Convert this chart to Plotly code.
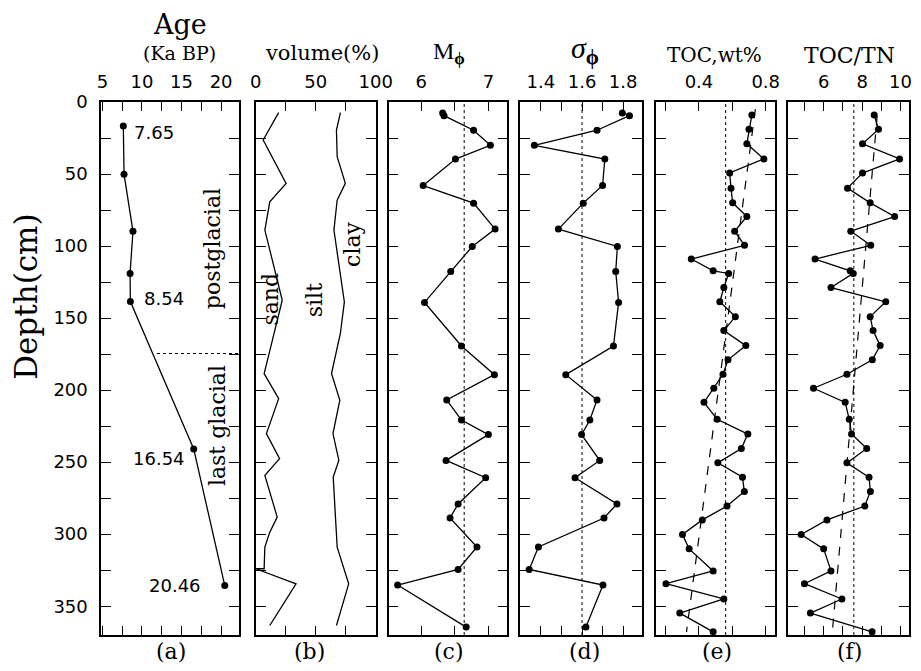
import plotly.graph_objects as go

# ---------------- data ----------------
# (a) age model
age_depth = [16.7, 50.1, 89.8, 119.0, 138.5, 240.8, 335.6]
age_ka = [7.65, 7.74, 8.87, 8.50, 8.54, 16.54, 20.46]
age_label_idx = [0, 4, 5, 6]
age_label_text = ["7.65", "8.54", "16.54", "20.46"]
boundary_depth = 174.6
boundary_start_age = 11.9

# (b) grain size volume %
sand_depth = [7.4, 26.4, 56.5, 69.3, 88.9, 137.6, 188.5, 205.9, 230.2, 247.6, 259.2,
              288.2, 298.6, 309.0, 324.0, 324.0, 334.5, 363.4]
sand_pct = [19.1, 6.2, 25.3, 11.7, 7.6, 22.1, 7.0, 19.1, 8.9, 19.9, 7.6,
            17.9, 11.7, 7.6, 7.0, 0.0, 33.6, 11.7]
silt_top_depth = [7.4, 19.5, 38.0, 56.5, 68.1, 88.9, 138.8, 160.5, 188.5, 207.1, 230.2,
                  248.8, 260.4, 309.0, 334.5, 363.4]
silt_top_pct = [70.6, 67.3, 67.9, 74.7, 67.9, 65.2, 73.9, 70.6, 63.2, 70.1, 64.4,
                69.3, 64.6, 67.9, 77.5, 67.3]

# (c),(d) mean grain size and sorting
depth_cd = [7.6, 9.5, 19.6, 30.1, 39.6, 58.0, 70.2, 88.2, 100.3, 117.7, 139.1, 169.4,
            189.3, 206.8, 220.8, 230.9, 248.8, 260.8, 279.0, 288.8, 308.9, 324.5, 335.3, 364.5]
m_phi = [6.32, 6.34, 6.78, 7.03, 6.51, 6.03, 6.78, 7.10, 6.76, 6.44, 6.05, 6.60,
         7.09, 6.38, 6.60, 7.00, 6.37, 6.96, 6.55, 6.43, 6.83, 6.55, 5.65, 6.67]
sigma_phi = [1.796, 1.831, 1.673, 1.368, 1.711, 1.700, 1.606, 1.485, 1.772, 1.764, 1.778, 1.753,
             1.521, 1.673, 1.638, 1.598, 1.686, 1.566, 1.770, 1.707, 1.388, 1.343, 1.702, 1.619]
m_phi_mean = 6.64
sigma_phi_mean = 1.60

# (e),(f) organic carbon
depth_ef = [9.0, 19.0, 29.0, 39.5, 49.3, 59.8, 70.0, 79.5, 89.7, 99.5, 109.0, 117.2, 119.0,
            128.8, 138.7, 149.0, 158.7, 169.1, 179.0, 189.0, 198.7, 208.5, 220.3, 230.5,
            240.5, 250.5, 260.5, 270.4, 280.5, 290.1, 300.2, 310.2, 325.5, 334.4, 345.0,
            354.8, 367.8]
toc = [0.717, 0.700, 0.687, 0.789, 0.584, 0.592, 0.602, 0.687, 0.614, 0.673, 0.354, 0.485,
       0.578, 0.549, 0.525, 0.618, 0.549, 0.681, 0.574, 0.544, 0.489, 0.430, 0.509, 0.693,
       0.654, 0.513, 0.661, 0.672, 0.568, 0.420, 0.301, 0.341, 0.485, 0.202, 0.549, 0.285,
       0.485]
toc_tn = [8.63, 8.85, 8.02, 9.95, 8.02, 7.24, 8.42, 9.69, 7.41, 8.45, 5.55, 7.38, 7.54,
          6.38, 9.23, 8.42, 8.57, 8.94, 8.53, 7.21, 5.47, 7.12, 7.33, 7.45, 8.24, 7.21,
          8.36, 8.43, 8.14, 6.17, 4.83, 6.00, 6.38, 5.00, 6.95, 5.31, 8.52]
toc_mean = 0.56
toc_tn_mean = 7.57
toc_trend_depth = [5, 368]
toc_trend = [0.738, 0.325]
toc_tn_trend_depth = [10, 368]
toc_tn_trend = [8.78, 6.45]

# axis ticks
depth_ticks = list(range(0, 351, 25))
depth_labels = [str(v) if v % 50 == 0 else "" for v in depth_ticks]
x_ticks = [
    ([5, 7.5, 10, 12.5, 15, 17.5, 20], ["5", "", "10", "", "15", "", "20"], [4.85, 22.25]),
    ([0, 25, 50, 75, 100], ["0", "", "50", "", "100"], [0, 100]),
    ([6, 6.5, 7], ["6", "", "7"], [5.515, 7.284]),
    ([1.4, 1.5, 1.6, 1.7, 1.8], ["1.4", "", "1.6", "", "1.8"], [1.3, 1.893]),
    ([0.2, 0.4, 0.6, 0.8], ["", "0.4", "", "0.8"], [0.143, 0.856]),
    ([5, 6, 7, 8, 9, 10], ["", "6", "", "8", "", "10"], [4.14, 10.43]),
]
panel_titles = ["volume(%)", "M<sub><b>ϕ</b></sub>", "<i>σ</i><sub><b>ϕ</b></sub>", "TOC,wt%", "TOC/TN"]
panel_letters = ["(a)", "(b)", "(c)", "(d)", "(e)", "(f)"]

# ---------------- layout helpers ----------------
# the page body has an 8 px margin; size the figure so the page needs no scrollbars
OFF = 8
W, H = 921 - 2 * OFF, 671 - 2 * OFF
KX = 0.991  # slight horizontal squeeze so the right-most frame and its labels fit
panels_px = [(102, 241), (258, 379), (392, 512), (525, 648), (662, 782), (795, 917)]
TOP, BOT = 102, 635
SERIF = "DejaVu Serif"
SANS = "DejaVu Sans"


def fx(px):
    return (px - OFF) * KX / W


def fy(py):
    return 1 - (py - OFF) / H


fig = go.Figure()
layout = dict(
    width=W, height=H, autosize=False, margin=dict(l=0, r=0, t=0, b=0, pad=0),
    paper_bgcolor="white", plot_bgcolor="white", showlegend=False,
)

for i, (x0, x1) in enumerate(panels_px):
    n = "" if i == 0 else str(i + 1)
    tv, tt, rng = x_ticks[i]
    layout["xaxis" + n] = dict(
        domain=[fx(x0), fx(x1)], range=rng, side="top", anchor="y" + n,
        tickvals=tv, ticktext=tt, ticks="inside", ticklen=9, tickwidth=1.3,
        tickcolor="black", showline=True, linecolor="black", linewidth=1.6,
        mirror="ticks", showgrid=False, zeroline=False, automargin=False,
        tickfont=dict(family=SANS, size=18, color="black"), ticklabelstandoff=5,
    )
    layout["yaxis" + n] = dict(
        domain=[fy(BOT), fy(TOP)], range=[370, 0], anchor="x" + n,
        tickvals=depth_ticks, ticktext=depth_labels, ticks="inside", ticklen=10,
        tickwidth=1.3, tickcolor="black", showline=True, linecolor="black",
        linewidth=1.6, mirror="ticks", showgrid=False, zeroline=False, automargin=False,
        showticklabels=(i == 0),
        tickfont=dict(family=SANS, size=18, color="black"), ticklabelstandoff=8,
    )

line_style = dict(color="black", width=1.3)
mk = dict(color="black", size=7)

fig.add_trace(go.Scatter(x=age_ka, y=age_depth, mode="lines+markers", line=line_style,
                         marker=mk, xaxis="x", yaxis="y"))
fig.add_trace(go.Scatter(x=sand_pct, y=sand_depth, mode="lines", line=line_style,
                         xaxis="x2", yaxis="y2"))
fig.add_trace(go.Scatter(x=silt_top_pct, y=silt_top_depth, mode="lines", line=line_style,
                         xaxis="x2", yaxis="y2"))
fig.add_trace(go.Scatter(x=m_phi, y=depth_cd, mode="lines+markers", line=line_style,
                         marker=mk, xaxis="x3", yaxis="y3"))
fig.add_trace(go.Scatter(x=sigma_phi, y=depth_cd, mode="lines+markers", line=line_style,
                         marker=mk, xaxis="x4", yaxis="y4"))
fig.add_trace(go.Scatter(x=toc_trend, y=toc_trend_depth, mode="lines",
                         line=dict(color="black", width=1.2, dash="dash"), xaxis="x5", yaxis="y5"))
fig.add_trace(go.Scatter(x=toc, y=depth_ef, mode="lines+markers", line=line_style,
                         marker=mk, xaxis="x5", yaxis="y5"))
fig.add_trace(go.Scatter(x=toc_tn_trend, y=toc_tn_trend_depth, mode="lines",
                         line=dict(color="black", width=1.2, dash="dash"), xaxis="x6", yaxis="y6"))
fig.add_trace(go.Scatter(x=toc_tn, y=depth_ef, mode="lines+markers", line=line_style,
                         marker=mk, xaxis="x6", yaxis="y6"))

shapes = []
for ax, val in [("3", m_phi_mean), ("4", sigma_phi_mean), ("5", toc_mean), ("6", toc_tn_mean)]:
    shapes.append(dict(type="line", xref="x" + ax, yref="y" + ax + " domain", x0=val, x1=val,
                       y0=0, y1=1, line=dict(color="black", width=1, dash="dot")))
shapes.append(dict(type="line", xref="x", yref="y", x0=boundary_start_age, x1=22.25,
                   y0=boundary_depth, y1=boundary_depth,
                   line=dict(color="black", width=1.2, dash="dot")))
layout["shapes"] = shapes


def txt_ann(text, px, py, size, family=SERIF, angle=0):
    return dict(x=fx(px), y=fy(py), xref="paper", yref="paper", text=text, showarrow=False,
                xanchor="center", yanchor="middle", textangle=angle,
                font=dict(family=family, size=size, color="black"))


ann = []
offsets = [(9, -6, "left"), (12, 3, "left"), (-7, -10, "right"), (-22, 0, "right")]
for idx, txt, (dx, dy, anc) in zip(age_label_idx, age_label_text, offsets):
    ann.append(dict(x=age_ka[idx], y=age_depth[idx], xref="x", yref="y", text=txt,
                    showarrow=False, xanchor=anc, yanchor="middle", xshift=dx, yshift=dy,
                    font=dict(family=SANS, size=18, color="black")))
ann.append(txt_ann("postglacial", 214, 249, 22, angle=-90))
ann.append(txt_ann("last glacial", 219, 426, 22, angle=-90))
for t, px, py in [("sand", 273, 299), ("silt", 317, 300), ("clay", 355, 244)]:
    ann.append(txt_ann(t, px, py, 22, angle=-90))
ann.append(txt_ann("Age", 182, 25, 27))
ann.append(txt_ann("(Ka BP)", 181, 53, 19))
title_pos = [(325, 53, 21), (453, 53, 24), (590, 50, 30), (721, 55, 20), (857, 56, 22)]
for t, (px, py, sz) in zip(panel_titles, title_pos):
    fam = SERIF if ("TOC" in t or "volume" in t) else "Liberation Serif"
    ann.append(txt_ann(t, px, py, sz, family=fam))
ann.append(txt_ann("Depth(cm)", 26, 297, 31, angle=-90))
for t, px in zip(panel_letters, [172, 312, 453, 590, 723, 857]):
    ann.append(txt_ann(t, px, 651, 22))
layout["annotations"] = ann

fig.update_layout(**layout)
fig.write_html("out.html")
